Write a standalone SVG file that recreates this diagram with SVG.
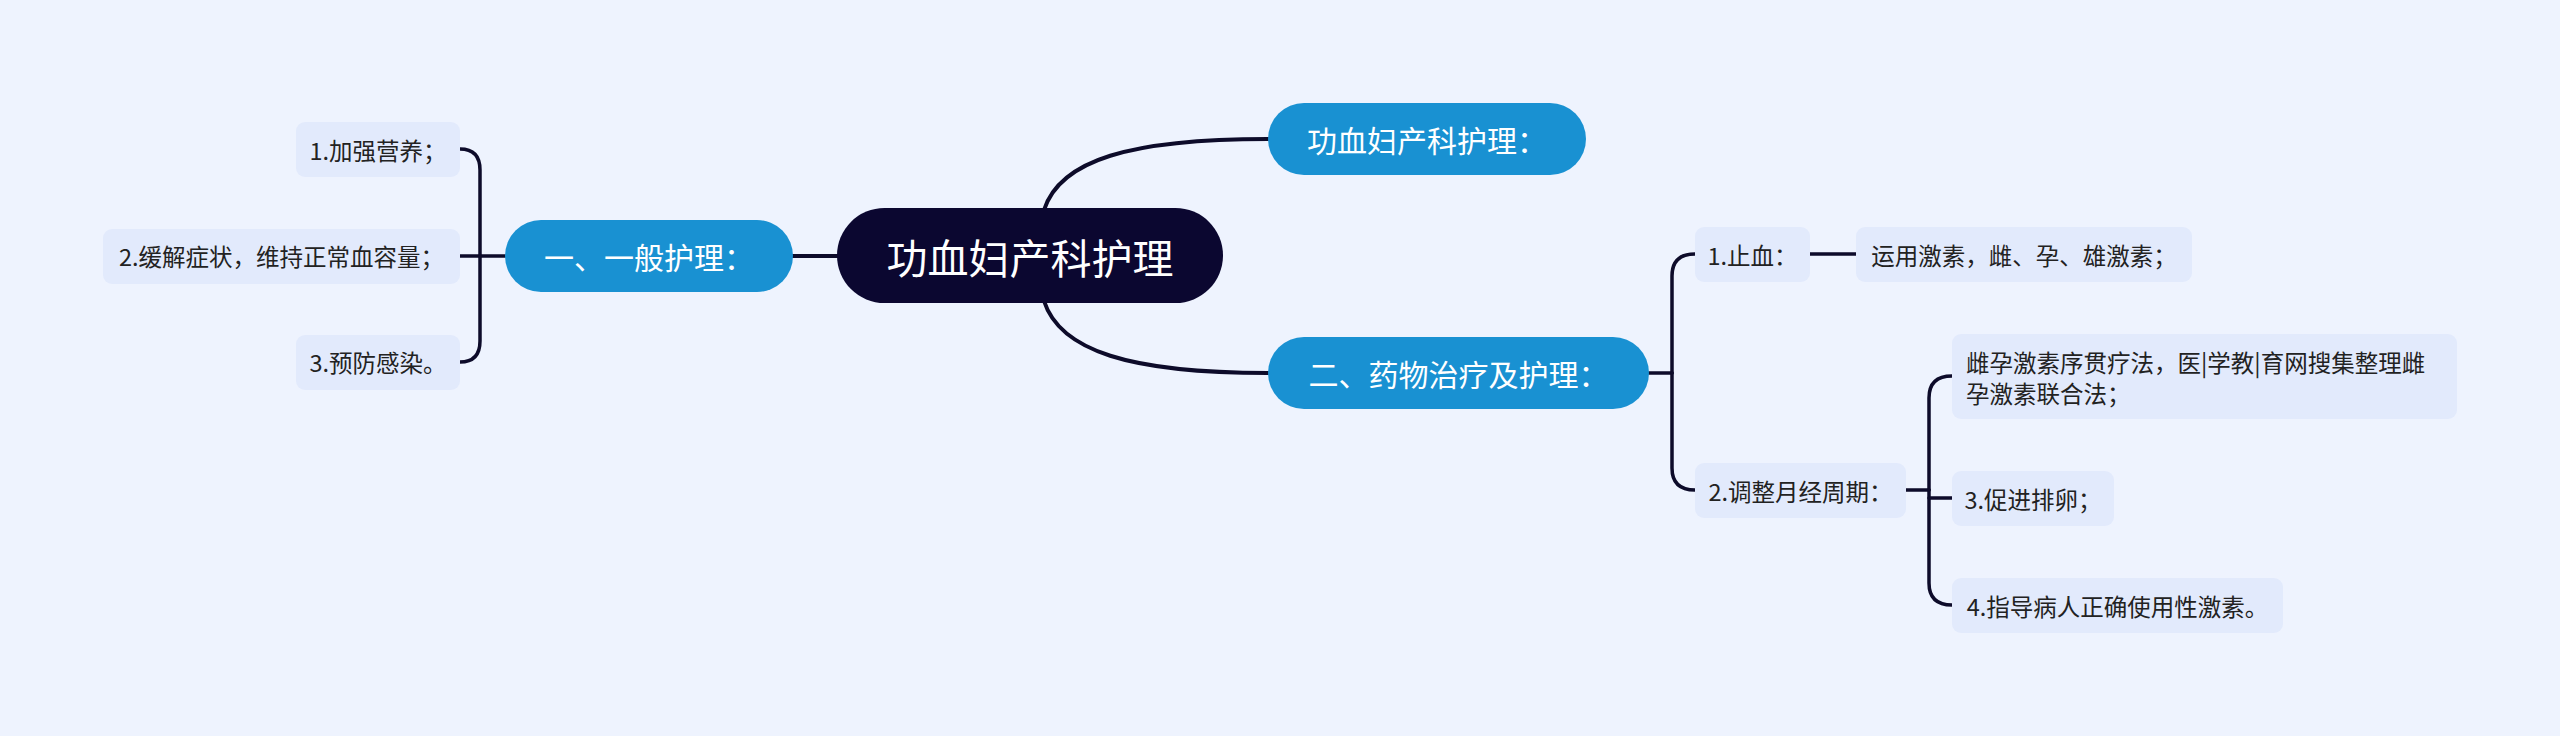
<svg xmlns="http://www.w3.org/2000/svg" width="2560" height="736" viewBox="0 0 2560 736">
<style>
.bg{fill:#EEF3FE}
.leaf rect{fill:#E2EAFC}
.leaf text{font-family:"Noto Sans CJK SC","Noto Sans",sans-serif;font-size:23.5px;fill:#222;text-anchor:middle;dominant-baseline:central}
.main rect{fill:#1991D2}
.main text{font-family:"Noto Sans CJK SC","Noto Sans",sans-serif;font-size:30px;fill:#fff;text-anchor:middle;dominant-baseline:central}
.root rect{fill:#0B0730}
.root text{font-family:"Noto Sans CJK SC","Noto Sans",sans-serif;font-size:41px;fill:#fff;text-anchor:middle;dominant-baseline:central}
.c path{fill:none;stroke:#0D0B2A;stroke-linecap:round}
.thick{stroke-width:4}
.thin{stroke-width:3.5}
</style>
<rect class="bg" x="0" y="0" width="2560" height="736"/>
<g id="connectors" class="c">
<path class="thick" d="M838,256 H793"/>
<path class="thick" d="M1044,210 C1060,160 1130,139 1268,139"/>
<path class="thick" d="M1044,301 C1060,351 1130,373 1268,373"/>
<path class="thin" d="M505,256 H460"/>
<path class="thin" d="M480,256 V170 Q480,149 460,149"/>
<path class="thin" d="M480,256 V341 Q480,362 460,362"/>
<path class="thin" d="M1649,373 H1672"/>
<path class="thin" d="M1672,373 V276 Q1672,254 1695,254"/>
<path class="thin" d="M1672,373 V468 Q1672,490 1695,490"/>
<path class="thin" d="M1810,254 H1856"/>
<path class="thin" d="M1906,490 H1929"/>
<path class="thin" d="M1929,490 V398 Q1929,376 1952,376"/>
<path class="thin" d="M1929,490 V583 Q1929,605 1952,605"/>
<path class="thin" d="M1929,498 H1952"/>
</g>
<g id="root" class="root">
<rect x="837" y="208" width="386" height="95" rx="47.5"/>
<text x="1030" y="256">功血妇产科护理</text>
</g>
<g id="n-general" class="main">
<rect x="505" y="220" width="288" height="72" rx="36"/>
<text x="649" y="256">一、一般护理：</text>
</g>
<g id="n-title" class="main">
<rect x="1268" y="103" width="318" height="72" rx="36"/>
<text x="1427" y="139">功血妇产科护理：</text>
</g>
<g id="n-drug" class="main">
<rect x="1268" y="337" width="381" height="72" rx="36"/>
<text x="1458.5" y="373">二、药物治疗及护理：</text>
</g>
<g id="l-nutrition" class="leaf">
<rect x="296" y="122" width="164" height="55" rx="9"/>
<text x="378" y="149.5">1.加强营养；</text>
</g>
<g id="l-relief" class="leaf">
<rect x="103" y="229" width="357" height="55" rx="9"/>
<text x="281.5" y="256">2.缓解症状，维持正常血容量；</text>
</g>
<g id="l-infection" class="leaf">
<rect x="296" y="335" width="164" height="55" rx="9"/>
<text x="378" y="362">3.预防感染。</text>
</g>
<g id="l-stop" class="leaf">
<rect x="1695" y="227" width="115" height="55" rx="9"/>
<text x="1752.5" y="254.5">1.止血：</text>
</g>
<g id="l-hormone" class="leaf">
<rect x="1856" y="227" width="336" height="55" rx="9"/>
<text x="2024" y="254.5">运用激素，雌、孕、雄激素；</text>
</g>
<g id="l-cycle" class="leaf">
<rect x="1695" y="463" width="211" height="55" rx="9"/>
<text x="1800.5" y="490.5">2.调整月经周期：</text>
</g>
<g id="l-sequential" class="leaf">
<rect x="1952" y="334" width="505" height="85" rx="9"/>
<text x="1966" y="362" style="text-anchor:start">雌孕激素序贯疗法，医|学教|育网搜集整理雌</text>
<text x="1966" y="393" style="text-anchor:start">孕激素联合法；</text>
</g>
<g id="l-ovulation" class="leaf">
<rect x="1952" y="471" width="162" height="55" rx="9"/>
<text x="2033" y="498.5">3.促进排卵；</text>
</g>
<g id="l-guide" class="leaf">
<rect x="1952" y="578" width="331" height="55" rx="9"/>
<text x="2117.5" y="605.5">4.指导病人正确使用性激素。</text>
</g>
</svg>
